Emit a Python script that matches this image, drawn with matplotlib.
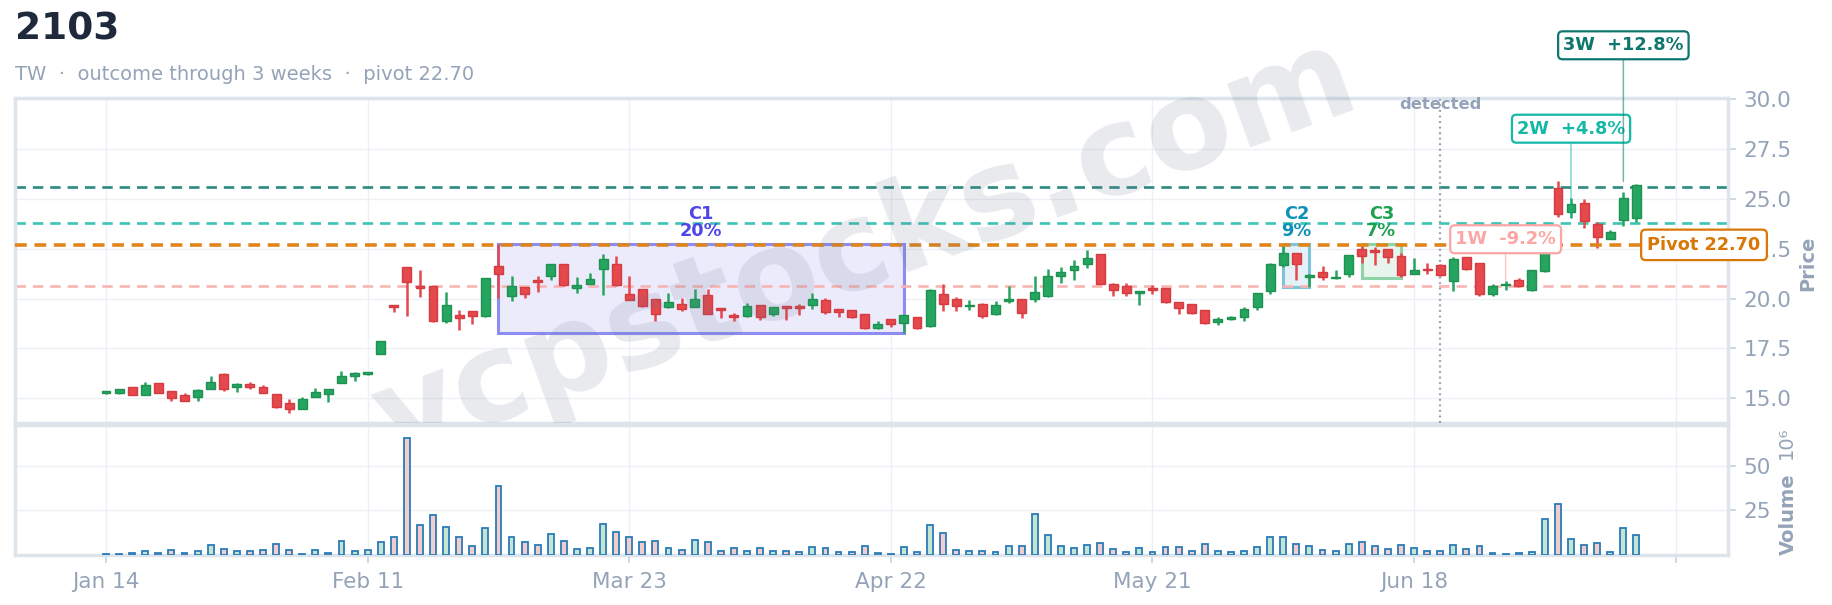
import matplotlib
matplotlib.use('Agg')
import matplotlib.pyplot as plt
import numpy as np
from matplotlib.patches import Rectangle
from matplotlib.transforms import Bbox, TransformedBbox, blended_transform_factory

plt.rcParams['font.family'] = ['DejaVu Sans']
plt.rcParams['lines.scale_dashes'] = False

# ---------------- data ----------------
ticker = '2103'
subtitle = 'TW  ·  outcome through 3 weeks  ·  pivot 22.70'
tick_labels = ['Jan 14', 'Feb 11', 'Mar 23', 'Apr 22', 'May 21', 'Jun 18', '']

opens = [15.28, 15.25, 15.55, 15.15, 15.75, 15.35, 15.18, 15.05, 15.45, 16.20,
         15.55, 15.73, 15.58, 15.23, 14.78, 14.48, 15.08, 15.20, 15.75, 16.10,
         16.20, 17.22, 19.63, 21.58, 20.62, 20.62, 18.88, 19.20, 19.38, 19.12,
         21.63, 20.15, 20.58, 20.95, 21.12, 21.73, 20.55, 20.75, 21.47, 21.73,
         20.23, 20.47, 19.98, 19.60, 19.73, 19.60, 20.18, 19.52, 19.20, 19.12,
         19.68, 19.22, 19.60, 19.60, 19.67, 19.95, 19.48, 19.43, 19.23, 18.52,
         18.98, 18.80, 19.08, 18.62, 20.23, 19.98, 19.62, 19.73, 19.23, 19.88,
         19.98, 19.97, 20.13, 21.12, 21.42, 21.72, 22.23, 20.73, 20.62, 20.27,
         20.53, 20.53, 19.83, 19.73, 19.43, 18.82, 18.97, 19.07, 19.57, 20.38,
         21.70, 22.28, 21.07, 21.33, 21.02, 21.22, 22.48, 22.43, 22.47, 22.12,
         21.22, 21.47, 21.67, 20.88, 22.08, 21.77, 20.25, 20.67, 20.92, 20.42,
         21.37, 25.56, 24.33, 24.78, 23.74, 22.99, 23.94, 24.03]
highs = [15.35, 15.48, 15.55, 15.82, 15.75, 15.35, 15.25, 15.47, 16.12, 16.27,
         15.75, 15.82, 15.65, 15.23, 14.95, 15.05, 15.50, 15.48, 16.35, 16.33,
         16.32, 17.88, 19.63, 21.58, 21.42, 20.65, 20.32, 19.45, 19.40, 21.05,
         22.75, 21.12, 20.60, 21.15, 21.73, 21.73, 21.08, 21.30, 22.22, 22.15,
         21.15, 20.50, 20.00, 20.30, 20.02, 20.47, 20.50, 19.55, 19.30, 19.78,
         19.70, 19.60, 19.60, 19.72, 20.30, 20.05, 19.50, 19.45, 19.25, 18.87,
         19.00, 19.20, 19.10, 20.47, 20.75, 20.08, 19.95, 19.78, 19.88, 20.65,
         20.00, 21.15, 21.50, 21.58, 21.92, 22.45, 22.23, 20.80, 20.80, 20.38,
         20.67, 20.55, 19.85, 19.75, 19.45, 19.10, 19.15, 19.58, 20.30, 21.80,
         22.72, 22.30, 21.25, 21.65, 21.45, 22.17, 22.68, 22.58, 22.50, 22.30,
         22.03, 21.78, 21.73, 22.08, 22.10, 21.80, 20.75, 20.88, 21.05, 21.45,
         22.70, 25.89, 25.06, 24.98, 23.83, 23.45, 25.33, 25.75]
lows = [15.20, 15.20, 15.15, 15.15, 15.25, 14.88, 14.85, 14.88, 15.45, 15.38,
        15.33, 15.48, 15.25, 14.53, 14.28, 14.45, 15.05, 14.83, 15.75, 15.85,
        16.15, 17.22, 19.35, 19.15, 20.08, 18.85, 18.78, 18.43, 18.75, 19.10,
        20.05, 19.88, 20.03, 20.33, 20.95, 20.62, 20.30, 20.75, 20.20, 20.65,
        19.95, 19.60, 18.90, 19.53, 19.40, 19.60, 19.22, 19.03, 18.90, 19.10,
        18.95, 19.15, 18.95, 19.20, 19.50, 19.25, 19.08, 19.05, 18.50, 18.50,
        18.58, 18.28, 18.50, 18.58, 19.40, 19.40, 19.45, 19.05, 19.18, 19.80,
        19.03, 19.85, 20.10, 20.80, 20.95, 21.55, 20.75, 20.13, 20.13, 19.68,
        20.25, 19.80, 19.23, 19.25, 18.72, 18.68, 18.93, 18.88, 19.45, 20.25,
        21.58, 20.95, 20.58, 20.95, 21.00, 21.08, 21.78, 21.67, 21.78, 21.08,
        21.22, 21.25, 21.12, 20.38, 21.45, 20.13, 20.13, 20.45, 20.60, 20.40,
        21.35, 24.12, 24.06, 23.53, 22.55, 22.97, 23.64, 23.87]
closes = [15.32, 15.48, 15.15, 15.67, 15.25, 15.00, 14.85, 15.42, 15.80, 15.48,
          15.73, 15.55, 15.25, 14.58, 14.45, 14.98, 15.30, 15.48, 16.13, 16.27,
          16.30, 17.88, 19.58, 20.82, 20.52, 18.88, 19.68, 19.02, 19.12, 21.03,
          21.25, 20.62, 20.25, 20.85, 21.73, 20.67, 20.70, 21.00, 22.00, 20.67,
          19.95, 19.65, 19.22, 19.83, 19.47, 20.00, 19.22, 19.42, 19.07, 19.63,
          19.07, 19.60, 19.55, 19.53, 20.00, 19.33, 19.35, 19.07, 18.52, 18.73,
          18.72, 19.18, 18.55, 20.45, 19.72, 19.62, 19.68, 19.15, 19.68, 20.00,
          19.27, 20.33, 21.12, 21.33, 21.63, 22.03, 20.75, 20.43, 20.28, 20.38,
          20.45, 19.82, 19.52, 19.27, 18.78, 18.98, 19.10, 19.50, 20.28, 21.73,
          22.30, 21.72, 21.20, 21.08, 21.10, 22.17, 22.12, 22.32, 22.07, 21.20,
          21.43, 21.42, 21.17, 21.97, 21.47, 20.23, 20.65, 20.73, 20.63, 21.43,
          22.32, 24.23, 24.73, 23.89, 23.08, 23.36, 25.06, 25.70]
volumes = [0.7, 0.7, 1.1, 2.2, 1.1, 2.8, 1.1, 2.2, 5.6, 3.3,
           2.2, 2.2, 2.8, 6.1, 2.8, 0.7, 2.8, 1.1, 7.8, 2.2,
           2.8, 7.2, 10.0, 65.6, 16.7, 22.2, 15.6, 10.0, 5.0, 15.0,
           38.9, 10.0, 7.2, 5.6, 11.7, 7.8, 3.3, 3.9, 17.2, 12.8,
           10.0, 7.2, 7.8, 3.9, 2.8, 8.3, 7.2, 2.2, 3.9, 2.2,
           3.9, 2.2, 2.2, 1.7, 4.4, 3.9, 1.7, 1.7, 5.0, 1.1,
           0.7, 4.4, 1.7, 16.7, 12.2, 2.8, 2.2, 2.2, 1.7, 5.0,
           5.0, 22.8, 11.1, 5.0, 3.9, 5.6, 6.7, 3.3, 1.7, 3.9,
           1.7, 4.4, 4.4, 2.2, 6.1, 2.2, 1.7, 2.2, 4.4, 10.0,
           10.0, 6.1, 5.0, 2.8, 2.2, 6.1, 7.2, 5.0, 3.3, 5.6,
           3.9, 2.2, 2.2, 5.6, 3.3, 5.0, 1.1, 0.7, 1.1, 1.7,
           20.0, 28.3, 8.9, 5.6, 6.7, 1.7, 15.0, 11.1]

pivot = 22.70
detected_idx = 102
outcome_labels = ['1W', '2W', '3W']
outcome_idx = [107, 112, 116]
outcome_pct = [-9.2, 4.8, 12.8]

c_names = ['C1', 'C2', 'C3']
c_start = [30, 90, 96]
c_end = [61, 92, 99]
c_high = [22.72, 22.72, 22.72]
c_low = [18.28, 20.58, 21.05]
c_depth = [20, 9, 7]

price_ticks = [15.0, 17.5, 20.0, 22.5, 25.0, 27.5, 30.0]
vol_ticks = [25, 50]

# ---------------- figure ----------------
W, H = 1832, 605
fig = plt.figure(figsize=(W / 100, H / 100), dpi=100)
fig.patch.set_facecolor('white')

L, R = 15, 1728
ax = fig.add_axes([L / W, 1 - 423 / H, (R - L) / W, (423 - 98) / H])
axv = fig.add_axes([L / W, 1 - 555 / H, (R - L) / W, (555 - 425) / H], sharex=ax)

GRID = '#edf1f5'
SPINE = '#dde4ec'
TXT = '#94a3b8'
GREEN = '#25a55f'
RED = '#e5484d'

o = np.array(opens); h = np.array(highs); lo = np.array(lows); c = np.array(closes)
v = np.array(volumes)
n = len(o)
x = np.arange(n)
up = c >= o
ccol = np.where(up, GREEN, RED)

# candles
ax.vlines(x, lo, h, colors=ccol, lw=1.8, zorder=3)
body_bottom = np.minimum(o, c)
body_h = np.maximum(np.abs(c - o), 0.08)
ax.bar(x, body_h, bottom=body_bottom, width=0.68, color=ccol,
       edgecolor=np.where(up, '#1f9152', '#d33c41'), linewidth=1.0, zorder=4)

# volume
axv.bar(x, v, width=0.45, color=np.where(up, '#c2e6d1', '#f3cccc'),
        edgecolor='#2b7bb9', linewidth=1.3, zorder=3)

# axes styling
for a in (ax, axv):
    a.set_facecolor('white')
    for s in a.spines.values():
        s.set_color(SPINE)
        s.set_linewidth(2.5)
    a.grid(True, color=GRID, lw=1, zorder=0)
    a.set_axisbelow(True)
    a.yaxis.tick_right()
    a.tick_params(axis='y', colors='#c9d1db', labelcolor=TXT, labelsize=15.5,
                  length=6, width=1.2, pad=5)

ax.set_xlim(-6.96, 124.0)
ax.set_ylim(13.76, 30.07)
ax.set_yticks(price_ticks)
ax.set_yticklabels([f'{t:.1f}' for t in price_ticks])
ax.set_xticks(np.arange(0, 121, 20))
ax.tick_params(axis='x', length=0, labelbottom=False)

axv.set_ylim(0, 72.8)
axv.set_yticks(vol_ticks)
axv.set_yticklabels([str(t) for t in vol_ticks])
axv.set_xticks(np.arange(0, 121, 20))
axv.set_xticklabels(tick_labels)
axv.tick_params(axis='x', colors='#c9d1db', labelcolor=TXT, labelsize=15.5,
                length=6, width=1.2, pad=6)

# contraction boxes
c_text = ['#4f46e5', '#0e90b8', '#1fa152']
c_edge = ['#8c8cf2', '#7dc3da', '#8fd3a8']
c_fill = ['#ecebfc', '#e4f2f7', '#e7f5ec']
for i in range(len(c_names)):
    ax.add_patch(Rectangle((c_start[i], c_low[i]), c_end[i] - c_start[i],
                           c_high[i] - c_low[i], facecolor=c_fill[i],
                           edgecolor=c_edge[i], lw=2.2, zorder=2))
    ax.annotate(f'{c_names[i]}\n{c_depth[i]}%',
                xy=((c_start[i] + c_end[i]) / 2, c_high[i]), xytext=(0, 3),
                textcoords='offset points', ha='center', va='bottom',
                fontsize=12.8, fontweight='bold', color=c_text[i],
                linespacing=0.95, zorder=6)

# outcome lines
o_line = ['#f9b4b4', '#3cc4b4', '#2b8a80']
o_text = ['#fca5a5', '#14b8a6', '#0f766e']
ax.axhline(pivot, color='#e0851b', lw=2.6, ls=(0, (8.5, 5.5)), zorder=5)
for k in range(3):
    yv = pivot * (1 + outcome_pct[k] / 100)
    ax.axhline(yv, color=o_line[k], lw=1.9, ls=(0, (7.5, 5)), zorder=2.5)

# detected marker
ax.axvline(detected_idx, color='#98a3b5', lw=1.6, ls=(0, (1.4, 2.6)), zorder=2.6)
ax.text(detected_idx, 0.981, 'detected', transform=blended_transform_factory(ax.transData, ax.transAxes),
        ha='center', va='center', fontsize=11.8, fontweight='bold', color=TXT, zorder=6)

# outcome annotations
for k in range(3):
    yv = pivot * (1 + outcome_pct[k] / 100)
    ax.annotate(f'{outcome_labels[k]}  {outcome_pct[k]:+.1f}%',
                xy=(outcome_idx[k], yv), xytext=(0, 34 * (k + 1)),
                textcoords='offset points', ha='center', va='center',
                fontsize=12.8, fontweight='bold', color=o_text[k],
                bbox=dict(boxstyle='round,pad=0.28,rounding_size=0.25', fc='white',
                          ec=o_text[k], lw=1.6),
                arrowprops=dict(arrowstyle='-', color=o_text[k], lw=1.1, alpha=0.55,
                                shrinkA=0, shrinkB=4),
                annotation_clip=False, zorder=7)

# pivot label
ax.text(0.986, pivot, f'Pivot {pivot:.2f}',
        transform=blended_transform_factory(ax.transAxes, ax.transData),
        ha='center', va='center', fontsize=12.8, fontweight='bold', color='#d97706',
        bbox=dict(boxstyle='round,pad=0.35,rounding_size=0.25', fc='white', ec='#d97706', lw=1.6),
        zorder=8, clip_on=False)

# axis titles
fig.text(1808 / W, 1 - 263 / H, 'Price', rotation=90, ha='center', va='center',
         fontsize=14, fontweight='bold', color=TXT)
fig.text(1788 / W, 1 - 514 / H, 'Volume', rotation=90, ha='center', va='center',
         fontsize=14, fontweight='bold', color=TXT)
fig.text(1786 / W, 1 - 443 / H, '10⁶', rotation=90, ha='center', va='center',
         fontsize=14, color=TXT)

# titles
fig.text(15 / W, 1 - 30 / H, ticker, ha='left', va='center', fontsize=27,
         fontweight='bold', color='#1e293b')
fig.text(15 / W, 1 - 75 / H, subtitle, ha='left', va='center', fontsize=14, color=TXT)

# watermark clipped to the region above the volume panel
wm = fig.text(865 / W, 1 - 250 / H, 'vcpstocks.com', rotation=20, ha='center', va='center',
              fontsize=90, fontweight='bold', color='#64748b', alpha=0.15, zorder=10)
wm.set_clip_box(TransformedBbox(Bbox([[0, 1 - 423 / H], [1, 1]]), fig.transFigure))
wm.set_clip_on(True)

fig.savefig('out.png', dpi=100, facecolor='white')
